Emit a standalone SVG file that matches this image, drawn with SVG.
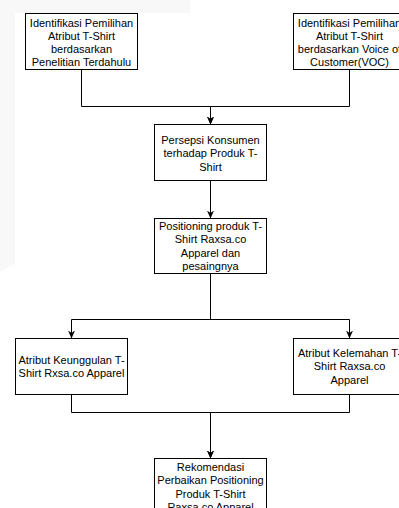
<svg xmlns="http://www.w3.org/2000/svg" width="399" height="508" viewBox="0 0 399 508">
<style>
.box{fill:#fff;stroke:#000;stroke-width:1}
.lbl{font-family:"Liberation Sans",Arial,sans-serif;font-size:11px;fill:#000;text-anchor:middle}
.edge{fill:none;stroke:#000;stroke-width:1}
</style>
<defs>
<marker id="arr" viewBox="0 0 10 10" refX="10" refY="5" markerWidth="8" markerHeight="7" markerUnits="userSpaceOnUse" orient="auto" preserveAspectRatio="none">
<path d="M0,0 L10,5 L0,10 L3,5 z" fill="#000"/>
</marker>
</defs>
<rect width="399" height="508" fill="#fff"/>
<path d="M0,0 H190 V13 H15 V263 L0,272 Z" fill="#f8f8f8"/>
<g id="connectors">
<path class="edge" d="M81.5,69.5 V106.5 H210.5 V124.5" marker-end="url(#arr)"/>
<path class="edge" d="M349.5,69.5 V106.5 H210.5 V124.5" marker-end="url(#arr)"/>
<path class="edge" d="M210.5,180.5 V218.5" marker-end="url(#arr)"/>
<path class="edge" d="M210.5,273.5 V319.5 H71.5 V338.5" marker-end="url(#arr)"/>
<path class="edge" d="M210.5,273.5 V319.5 H349.5 V338.5" marker-end="url(#arr)"/>
<path class="edge" d="M71.5,394.5 V412.5 H210.5 V458.5" marker-end="url(#arr)"/>
<path class="edge" d="M349.5,394.5 V412.5 H210.5 V458.5" marker-end="url(#arr)"/>
</g>
<g id="n1">
<rect class="box" x="25.5" y="13.5" width="112" height="56"/>
<text class="lbl"><tspan x="81.5" y="26.5">Identifikasi Pemilihan</tspan><tspan x="81.5" y="39.5">Atribut T-Shirt</tspan><tspan x="81.5" y="52.5">berdasarkan</tspan><tspan x="81.5" y="65.5">Penelitian Terdahulu</tspan></text>
</g>
<g id="n2">
<rect class="box" x="293.5" y="13.5" width="112" height="56"/>
<text class="lbl"><tspan x="349.5" y="26.5">Identifikasi Pemilihan</tspan><tspan x="349.5" y="39.5">Atribut T-Shirt</tspan><tspan x="349.5" y="52.5">berdasarkan Voice of</tspan><tspan x="349.5" y="65.5">Customer(VOC)</tspan></text>
</g>
<g id="n3">
<rect class="box" x="154.5" y="124.5" width="112" height="56"/>
<text class="lbl"><tspan x="210.5" y="144">Persepsi Konsumen</tspan><tspan x="210.5" y="157.3">terhadap Produk T-</tspan><tspan x="210.5" y="170.6">Shirt</tspan></text>
</g>
<g id="n4">
<rect class="box" x="154.5" y="218.5" width="112" height="55"/>
<text class="lbl"><tspan x="210.5" y="230">Positioning produk T-</tspan><tspan x="210.5" y="243.3">Shirt Raxsa.co</tspan><tspan x="210.5" y="256.6">Apparel dan</tspan><tspan x="210.5" y="269.9">pesaingnya</tspan></text>
</g>
<g id="n5">
<rect class="box" x="15.5" y="338.5" width="112" height="56"/>
<text class="lbl"><tspan x="71.5" y="363.8">Atribut Keunggulan T-</tspan><tspan x="71.5" y="377.1">Shirt Rxsa.co Apparel</tspan></text>
</g>
<g id="n6">
<rect class="box" x="293.5" y="338.5" width="112" height="56"/>
<text class="lbl"><tspan x="349.5" y="357">Atribut Kelemahan T-</tspan><tspan x="349.5" y="370.3">Shirt Raxsa.co</tspan><tspan x="349.5" y="383.6">Apparel</tspan></text>
</g>
<g id="n7">
<rect class="box" x="154.5" y="458.5" width="112" height="62"/>
<text class="lbl"><tspan x="210.5" y="471">Rekomendasi</tspan><tspan x="210.5" y="484.3">Perbaikan Positioning</tspan><tspan x="210.5" y="497.6">Produk T-Shirt</tspan><tspan x="210.5" y="510.9">Raxsa.co Apparel</tspan></text>
</g>
</svg>
